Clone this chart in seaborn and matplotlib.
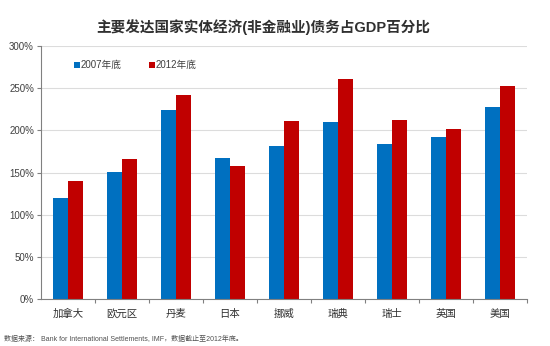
import matplotlib
matplotlib.use("Agg")
import matplotlib.pyplot as plt
import seaborn as sns
import pandas as pd
from matplotlib.ticker import FuncFormatter, MultipleLocator

countries = ["加拿大", "欧元区", "丹麦", "日本", "挪威", "瑞典", "瑞士", "英国", "美国"]
debt_2007 = [120, 151, 224, 167, 182, 210, 184, 192, 228]
debt_2012 = [140, 166, 242, 158, 211, 261, 212, 202, 252]
series_names = ["2007年底", "2012年底"]
title = "主要发达国家实体经济(非金融业)债务占GDP百分比"
source = "数据来源： Bank for International Settlements, IMF，数据截止至2012年底。"

df = pd.DataFrame({
    "country": countries * 2,
    "value": debt_2007 + debt_2012,
    "series": [series_names[0]] * len(countries) + [series_names[1]] * len(countries),
})

sns.set_theme(style="white")
plt.rcParams['font.family'] = ['Liberation Sans', 'Noto Sans CJK SC', 'DejaVu Sans']

fig = plt.figure(figsize=(5.5, 3.46), dpi=100)
ax = fig.add_axes([0.0745, 0.1358, 0.8836, 0.7312])

sns.barplot(data=df, x="country", y="value", hue="series",
            palette=["#0070C0", "#C00000"], width=0.567, saturation=1,
            dodge=True, ax=ax, legend=True, linewidth=0)

ax.set_ylim(0, 300)
ax.set_xlim(-0.5, len(countries) - 0.5)
ax.yaxis.set_major_locator(MultipleLocator(50))
ax.yaxis.set_major_formatter(FuncFormatter(lambda v, p: f"{int(v)}%"))
ax.grid(axis="y", color="#DCDCDC", linewidth=0.8)
ax.set_axisbelow(True)
ax.set_xlabel("")
ax.set_ylabel("")

for s in ["top", "right"]:
    ax.spines[s].set_visible(False)
for s in ["left", "bottom"]:
    ax.spines[s].set_color("#808080")
    ax.spines[s].set_linewidth(0.8)

ax.tick_params(axis="y", labelsize=7, labelcolor="#404040", length=3, width=0.8,
               direction="out", left=True, pad=2, color="#808080")
ax.set_xticks(range(len(countries)))
ax.set_xticklabels(countries, fontsize=7.5, color="#303030")
ax.set_xticks([i + 0.5 for i in range(len(countries))], minor=True)
ax.tick_params(axis="x", which="major", length=0, pad=7)
ax.tick_params(axis="x", which="minor", length=3, width=0.8, color="#808080",
               bottom=True, direction="out")

leg = ax.legend(loc="upper left", bbox_to_anchor=(0.06, 0.96), ncol=2, frameon=False,
                fontsize=7, handlelength=0.6, handleheight=0.6, handletextpad=0.1,
                columnspacing=2.8, borderaxespad=0)
for t in leg.get_texts():
    t.set_color("#404040")

fig.text(0.478, 0.922, title, ha="center", va="center", fontsize=10.5,
         fontweight="bold", color="#303030")
fig.text(0.008, 0.02, source, ha="left", va="center", fontsize=5, color="#505050")

fig.savefig("out.png", dpi=100)
